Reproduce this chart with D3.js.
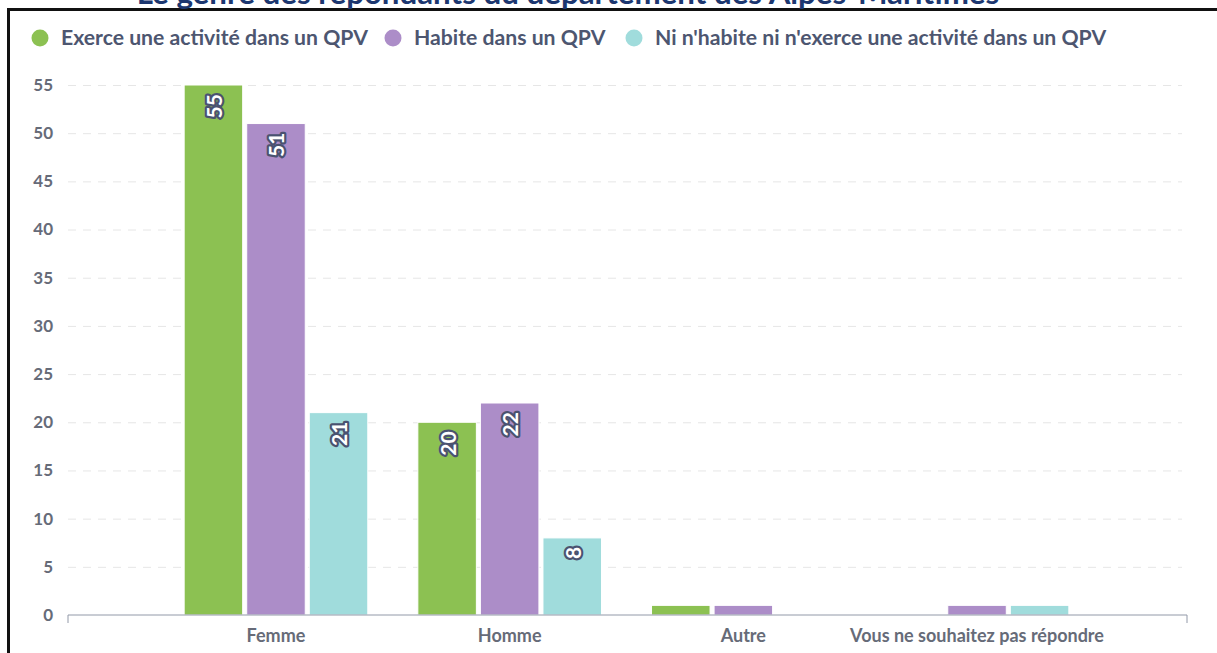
<!DOCTYPE html>
<html>
<head>
<meta charset="utf-8">
<script src="https://cdn.jsdelivr.net/npm/d3@7"></script>
<style>
  html, body { margin: 0; padding: 0; background: #fff; }
  svg { display: block; font-family: Lato, "Open Sans", sans-serif; }
</style>
</head>
<body>
<svg id="chart" width="1217" height="653"></svg>
<script>
// ---- data ----
const title = "Le genre des répondants du département des Alpes-Maritimes";
const categories = ["Femme", "Homme", "Autre", "Vous ne souhaitez pas répondre"];
const seriesNames = [
  "Exerce une activité dans un QPV",
  "Habite dans un QPV",
  "Ni n'habite ni n'exerce une activité dans un QPV"
];
const exerceValues = [55, 20, 1, 0];
const habiteValues = [51, 22, 1, 1];
const niValues = [21, 8, 0, 1];
const yTicks = [0, 5, 10, 15, 20, 25, 30, 35, 40, 45, 50, 55];
const colors = ["#8cc152", "#ac8dc8", "#a0dcdc"];

const seriesValues = [exerceValues, habiteValues, niValues];

// ---- layout ----
const svg = d3.select("#chart");
const plotLeft = 68, plotRight = 1187, plotTop = 85, plotBottom = 615;

const y = d3.scaleLinear().domain([0, 55]).range([plotBottom, plotTop]);
const x0 = d3.scaleBand().domain(categories).range([plotLeft, 1185])
  .paddingInner(0).paddingOuter(0.39);
const x1 = d3.scaleBand().domain(d3.range(seriesNames.length)).range([0, x0.bandwidth()])
  .paddingInner(0.0645).paddingOuter(0.4);

// frame
svg.append("line").attr("x1", 8).attr("x2", 1217).attr("y1", 9.5).attr("y2", 9.5)
  .attr("stroke", "#111").attr("stroke-width", 3);
svg.append("line").attr("x1", 8.5).attr("x2", 8.5).attr("y1", 8).attr("y2", 653)
  .attr("stroke", "#111").attr("stroke-width", 3);

// title (cut off at top, as in the reference)
const t = svg.append("text").attr("x", 568).attr("y", 4)
  .attr("text-anchor", "middle").attr("fill", "#1c3770")
  .attr("font-weight", "bold").attr("font-size", 28).text(title);
const tl = t.node().getComputedTextLength();
t.attr("font-size", 28 * 863 / tl);

// gridlines + y labels
const yAxis = d3.axisLeft(y).tickValues(yTicks).tickSize(-(1182 - plotLeft)).tickPadding(15);
const gy = svg.append("g").attr("transform", `translate(${plotLeft},0)`).call(yAxis);
gy.select(".domain").remove();
gy.selectAll(".tick line").attr("stroke", "#e6e6e6").attr("stroke-dasharray", "8,7")
  .filter(d => d === 0).remove();
gy.selectAll(".tick text").attr("fill", "#666b78").attr("font-size", 17)
  .attr("font-weight", "bold").attr("font-family", "Lato").attr("x", -15);

// bars
const groups = svg.append("g").selectAll("g").data(categories).join("g")
  .attr("transform", d => `translate(${x0(d)},0)`);
groups.selectAll("rect")
  .data((c, ci) => seriesValues.map((vals, si) => ({ si, v: vals[ci] })))
  .join("rect")
  .attr("x", d => x1(d.si))
  .attr("width", x1.bandwidth())
  .attr("y", d => y(d.v))
  .attr("height", d => y(0) - y(d.v))
  .attr("fill", d => colors[d.si])
  .attr("stroke", "#fff").attr("stroke-width", 1);

// data labels
groups.selectAll("text.lbl")
  .data((c, ci) => seriesValues.map((vals, si) => ({ si, v: vals[ci] })).filter(d => d.v >= 5))
  .join("text").attr("class", "lbl")
  .attr("transform", d => `translate(${x1(d.si) + x1.bandwidth() / 2},${y(d.v) + 9}) rotate(-90)`)
  .attr("text-anchor", "end").attr("dominant-baseline", "central")
  .attr("font-size", 21).attr("font-weight", "bold")
  .attr("fill", "#fff").attr("stroke", "#4a5270").attr("stroke-width", 4.5)
  .attr("stroke-linejoin", "round").attr("paint-order", "stroke")
  .text(d => d.v);

// x axis
const xAxis = d3.axisBottom(x0).tickSize(0).tickPadding(14);
const gx = svg.append("g").attr("transform", `translate(0,${plotBottom})`).call(xAxis);
gx.select(".domain").attr("d", `M${plotLeft},8V0H${plotRight}V8`).attr("stroke", "#9299a8").attr("fill", "none");
gx.selectAll(".tick text").attr("fill", "#666b78").attr("font-size", 18)
  .attr("font-weight", "bold").attr("font-family", "Lato");

// legend
const legendX = [40, 393, 634];
const lg = svg.append("g").selectAll("g").data(seriesNames).join("g")
  .attr("transform", (d, i) => `translate(${legendX[i]},38)`);
lg.append("circle").attr("r", 8.5).attr("fill", (d, i) => colors[i]);
lg.append("text").attr("x", 21).attr("dy", "0.35em").attr("font-size", 21.2)
  .attr("font-weight", "bold").attr("fill", "#4d5670").text(d => d);
</script>
</body>
</html>
